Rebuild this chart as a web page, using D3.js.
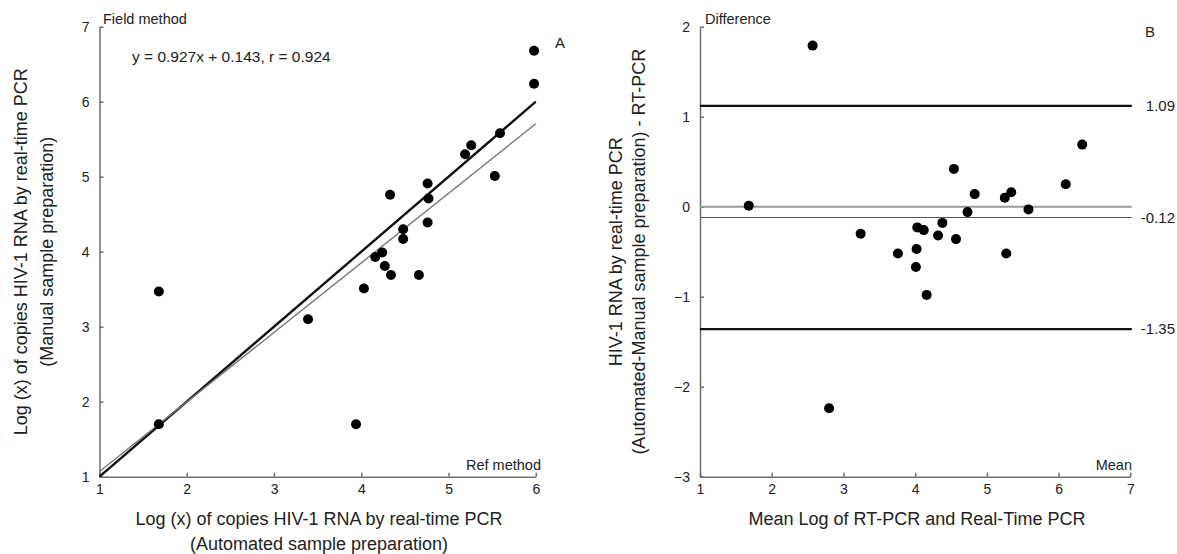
<!DOCTYPE html>
<html>
<head>
<meta charset="utf-8">
<script src="https://cdn.jsdelivr.net/npm/d3@7"></script>
<style>
    body { margin: 0; background: #fff; }
    svg { display: block; font-family: "Liberation Sans", Arial, sans-serif; }
    .tick text { font-size: 14px; fill: #222; }
    .tick line, .domain { stroke: #6e6e6e; stroke-width: 1.5; }
</style>
</head>
<body>
<svg id="chart"></svg>
<script>
// 1: DATA
// Panel A: automated (x) vs manual (y) log copies
const autoLog   = [5.98, 5.98, 5.59, 5.26, 5.19, 5.53, 4.33, 4.76, 4.77, 4.76, 4.48,
                   4.48, 4.24, 4.16, 4.27, 4.34, 4.66, 4.03, 1.68, 3.39, 1.68, 3.94];
const manualLog = [6.68, 6.24, 5.58, 5.42, 5.30, 5.01, 4.76, 4.91, 4.71, 4.39, 4.30,
                   4.17, 3.99, 3.93, 3.81, 3.69, 3.69, 3.51, 3.47, 3.10, 1.70, 1.70];
const regression = { slope: 0.927, intercept: 0.143 };
const equationText = "y = 0.927x + 0.143, r = 0.924";

// Panel B: Bland-Altman, mean (x) vs difference (y)
const meanLog = [2.57, 1.68, 6.33, 6.10, 4.54, 4.83, 5.25, 5.34, 5.58, 4.73, 3.24,
                 4.03, 4.12, 4.38, 4.32, 4.57, 3.76, 4.02, 5.27, 4.01, 4.16, 2.80];
const diffLog = [1.79, 0.01, 0.69, 0.25, 0.42, 0.14, 0.10, 0.16, -0.03, -0.06, -0.30,
                 -0.23, -0.26, -0.18, -0.32, -0.36, -0.52, -0.47, -0.52, -0.67, -0.98, -2.24];
const limitValues = [1.12, -0.12, -1.36];
const limitLabels = ["1.09", "-0.12", "-1.35"];

const ticksA_x = [1, 2, 3, 4, 5, 6];
const ticksA_y = [1, 2, 3, 4, 5, 6, 7];
const ticksB_x = [1, 2, 3, 4, 5, 6, 7];
const ticksB_y = [-3, -2, -1, 0, 1, 2];

// 2: SVG
const W = 1177, H = 554;
const svg = d3.select("#chart").attr("width", W).attr("height", H);

// 3: SCALES
const xA = d3.scaleLinear().domain([1, 6]).range([99.5, 535.8]);
const yA = d3.scaleLinear().domain([1, 7]).range([476.7, 26.7]);
const xB = d3.scaleLinear().domain([1, 7]).range([700, 1130.3]);
const yB = d3.scaleLinear().domain([-3, 2]).range([476.7, 26.7]);

function drawAxes(xs, ys, xt, yt) {
    svg.append("g")
        .attr("transform", `translate(0,${ys.range()[0]})`)
        .call(d3.axisBottom(xs).tickValues(xt).tickFormat(d3.format("d"))
            .tickSizeInner(-4).tickSizeOuter(0).tickPadding(7));
    svg.append("g")
        .attr("transform", `translate(${xs.range()[0]},0)`)
        .call(d3.axisLeft(ys).tickValues(yt).tickFormat(d3.format("d"))
            .tickSizeInner(-4).tickSizeOuter(0).tickPadding(10));
}

function label(x, y, txt, size, anchor, rotate) {
    const t = svg.append("text")
        .attr("x", x).attr("y", y)
        .attr("font-size", size)
        .attr("fill", "#222")
        .attr("text-anchor", anchor || "start")
        .text(txt);
    if (rotate) t.attr("transform", `rotate(-90,${x},${y})`);
    return t;
}

// 4: PANEL A
drawAxes(xA, yA, ticksA_x, ticksA_y);

// identity line
svg.append("line")
    .attr("x1", xA(1)).attr("y1", yA(1))
    .attr("x2", xA(6)).attr("y2", yA(6))
    .attr("stroke", "#111").attr("stroke-width", 2.4);

// regression line
svg.append("line")
    .attr("x1", xA(1)).attr("y1", yA(regression.slope * 1 + regression.intercept))
    .attr("x2", xA(6)).attr("y2", yA(regression.slope * 6 + regression.intercept))
    .attr("stroke", "#777").attr("stroke-width", 1.4);

svg.append("g").selectAll("circle")
    .data(d3.zip(autoLog, manualLog))
    .join("circle")
    .attr("cx", d => xA(d[0]))
    .attr("cy", d => yA(d[1]))
    .attr("r", 5)
    .attr("fill", "#000");

label(103, 24, "Field method", 14.5);
label(541, 470, "Ref method", 14.5, "end");
label(132, 62, equationText, 15.5);
label(555, 48, "A", 15);

label(319, 525, "Log (x) of copies HIV-1 RNA by real-time PCR", 18, "middle");
label(319, 550, "(Automated sample preparation)", 18, "middle");
label(27, 251.7, "Log (x) of copies HIV-1 RNA by real-time PCR", 18, "middle", true);
label(53, 251.7, "(Manual sample preparation)", 18, "middle", true);

// 5: PANEL B
drawAxes(xB, yB, ticksB_x, ticksB_y);

// zero reference
svg.append("line")
    .attr("x1", xB(1)).attr("y1", yB(0))
    .attr("x2", xB(7) + 1.5).attr("y2", yB(0))
    .attr("stroke", "#9a9a9a").attr("stroke-width", 2);

// mean difference and limits of agreement
svg.append("g").selectAll("line")
    .data(limitValues)
    .join("line")
    .attr("x1", xB(1)).attr("x2", xB(7) + 1.5)
    .attr("y1", d => yB(d)).attr("y2", d => yB(d))
    .attr("stroke", (d, i) => i === 1 ? "#555" : "#111")
    .attr("stroke-width", (d, i) => i === 1 ? 1.2 : 2.4);

svg.append("g").selectAll("text")
    .data(limitValues)
    .join("text")
    .attr("x", 1175)
    .attr("y", d => yB(d) + 5)
    .attr("text-anchor", "end")
    .attr("font-size", 15)
    .attr("fill", "#222")
    .text((d, i) => limitLabels[i]);

svg.append("g").selectAll("circle")
    .data(d3.zip(meanLog, diffLog))
    .join("circle")
    .attr("cx", d => xB(d[0]))
    .attr("cy", d => yB(d[1]))
    .attr("r", 5)
    .attr("fill", "#000");

label(705, 24, "Difference", 14.5);
label(1132, 470, "Mean", 14.5, "end");
label(1145, 37, "B", 15);

label(917, 525, "Mean Log of RT-PCR and Real-Time PCR", 18, "middle");
label(622, 251.7, "HIV-1 RNA by real-time PCR", 18, "middle", true);
label(645, 251.7, "(Automated-Manual sample preparation) - RT-PCR", 18, "middle", true);
</script>
</body>
</html>
